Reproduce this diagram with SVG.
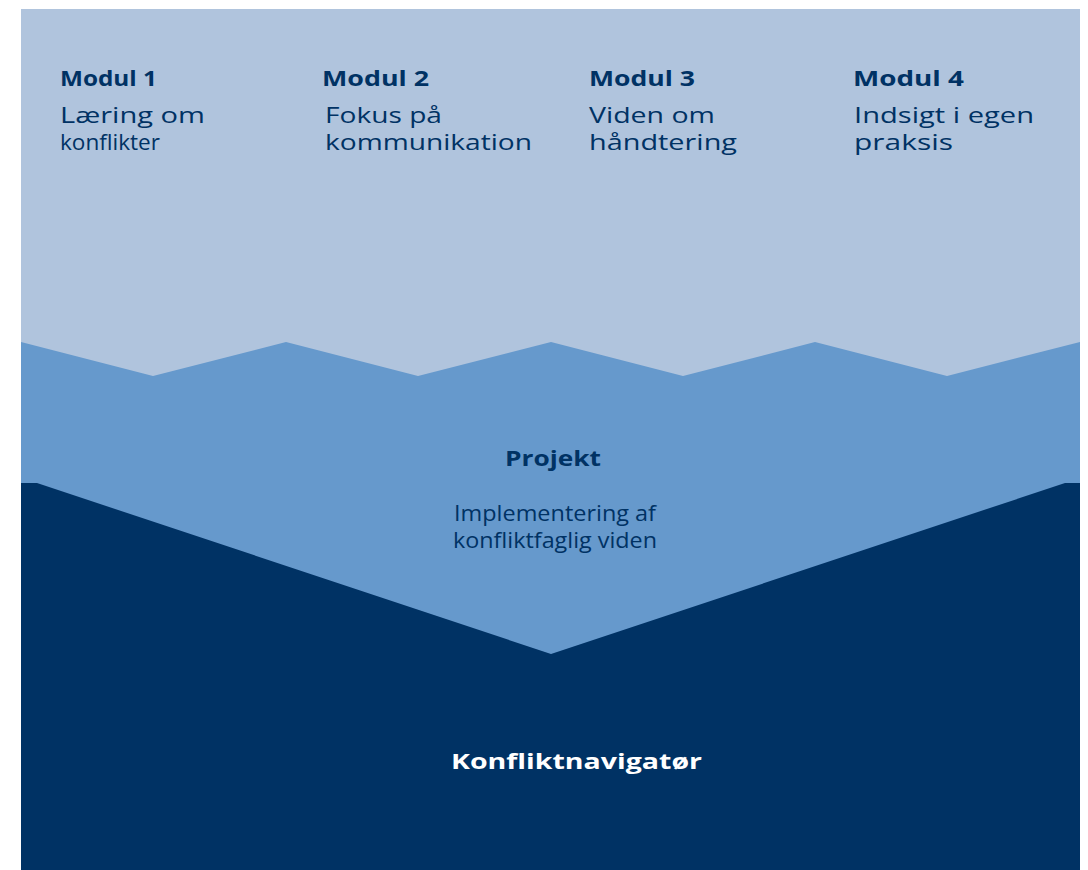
<svg xmlns="http://www.w3.org/2000/svg" width="1088" height="870" viewBox="0 0 1088 870">
<style>
.h{font-family:"Open Sans","Liberation Sans",sans-serif;font-weight:700;font-size:21px;fill:#003264}
.b{font-family:"Open Sans","Liberation Sans",sans-serif;font-weight:400;font-size:21px;fill:#003264}
.w{fill:#ffffff}
</style>
<rect width="1088" height="870" fill="#ffffff"/>
<g id="layers">
<rect x="21" y="9" width="1059" height="861" fill="#B0C4DD"/>
<polygon fill="#6699CC" points="21,342 153,376 286,342 418,376 551,342 683,376 815,342 947,376 1080,342 1080,870 21,870"/>
<polygon fill="#003264" points="21,483 37,483 551,654 1065,483 1080,483 1080,870 21,870"/>
</g>
<g id="modul1">
<text class="h" x="60" y="86" textLength="97" lengthAdjust="spacingAndGlyphs">Modul 1</text>
<text class="b" x="60" y="123" textLength="145" lengthAdjust="spacingAndGlyphs">Læring om</text>
<text class="b" x="60" y="150" textLength="100" lengthAdjust="spacingAndGlyphs">konflikter</text>
</g>
<g id="modul2">
<text class="h" x="322" y="86" textLength="107" lengthAdjust="spacingAndGlyphs">Modul 2</text>
<text class="b" x="325" y="123" textLength="117" lengthAdjust="spacingAndGlyphs">Fokus på</text>
<text class="b" x="325" y="150" textLength="207" lengthAdjust="spacingAndGlyphs">kommunikation</text>
</g>
<g id="modul3">
<text class="h" x="589" y="86" textLength="106" lengthAdjust="spacingAndGlyphs">Modul 3</text>
<text class="b" x="589" y="123" textLength="126" lengthAdjust="spacingAndGlyphs">Viden om</text>
<text class="b" x="589" y="150" textLength="148" lengthAdjust="spacingAndGlyphs">håndtering</text>
</g>
<g id="modul4">
<text class="h" x="853" y="86" textLength="111" lengthAdjust="spacingAndGlyphs">Modul 4</text>
<text class="b" x="854" y="123" textLength="180" lengthAdjust="spacingAndGlyphs">Indsigt i egen</text>
<text class="b" x="854" y="150" textLength="99" lengthAdjust="spacingAndGlyphs">praksis</text>
</g>
<g id="projekt">
<text class="h" x="505" y="466" textLength="96" lengthAdjust="spacingAndGlyphs">Projekt</text>
<text class="b" x="454" y="521" textLength="202" lengthAdjust="spacingAndGlyphs">Implementering af</text>
<text class="b" x="453" y="548" textLength="204" lengthAdjust="spacingAndGlyphs">konfliktfaglig viden</text>
</g>
<g id="konfliktnavigator">
<text class="h w" x="451" y="769" textLength="251" lengthAdjust="spacingAndGlyphs">Konfliktnavigatør</text>
</g>
<g id="connectors"></g>
</svg>
